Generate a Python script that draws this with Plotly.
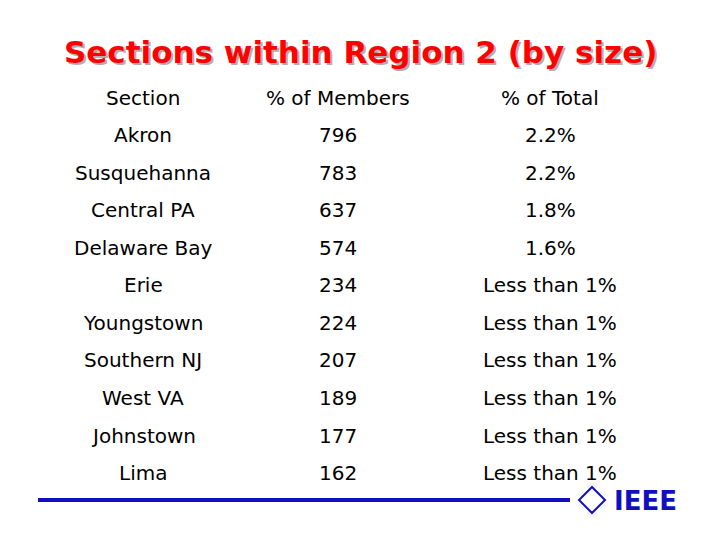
import plotly.graph_objects as go

sections = ["Akron", "Susquehanna", "Central PA", "Delaware Bay", "Erie",
            "Youngstown", "Southern NJ", "West VA", "Johnstown", "Lima"]
members = [796, 783, 637, 574, 234, 224, 207, 189, 177, 162]
totals = ["2.2%", "2.2%", "1.8%", "1.6%", "Less than 1%", "Less than 1%",
          "Less than 1%", "Less than 1%", "Less than 1%", "Less than 1%"]
headers = ["Section", "% of Members", "% of Total"]

W, H = 720, 540
OFF = 8  # page body margin
font = "DejaVu Sans"
fig = go.Figure()

def px(x):
    return (x - OFF) / W

def py(y):
    return 1 - (y - OFF) / H

def add(text, x, y, size, color="black", **kw):
    fig.add_annotation(text=text, x=px(x), y=py(y), xref="paper", yref="paper",
                       showarrow=False, xanchor="center", yanchor="middle",
                       font=dict(family=font, size=size, color=color), **kw)

# title with shadow
add("<b>Sections within Region 2 (by size)</b>", 362, 54, 31, "#b0b0b0")
add("<b>Sections within Region 2 (by size)</b>", 360, 52, 31, "#ff0000")

col_x = [143, 338, 550]
for x, h in zip(col_x, headers):
    add(h, x, 98, 20)

row_y = [135, 173, 210, 248, 285, 323, 360, 398, 436, 473]
for y, s, m, t in zip(row_y, sections, members, totals):
    add(s, col_x[0], y, 20)
    add(str(m), col_x[1], y, 20)
    add(t, col_x[2], y, 20)

# bottom rule
fig.add_shape(type="line", xref="paper", yref="paper", x0=px(38), x1=px(570),
              y0=py(500), y1=py(500), line=dict(color="#1010c0", width=4))
# IEEE logo
fig.add_shape(type="path", xref="paper", yref="paper",
              path=f"M {px(592)} {py(487)} L {px(605)} {py(500)} L {px(592)} {py(513)} L {px(579)} {py(500)} Z",
              line=dict(color="#1010c0", width=2), fillcolor="white")
add("<b>IEEE</b>", 645, 501, 26, "#1010c0")

fig.update_layout(width=W, height=H, margin=dict(l=0, r=0, t=0, b=0),
                  paper_bgcolor="white", plot_bgcolor="white",
                  xaxis=dict(visible=False), yaxis=dict(visible=False))
fig.write_html("out.html")
